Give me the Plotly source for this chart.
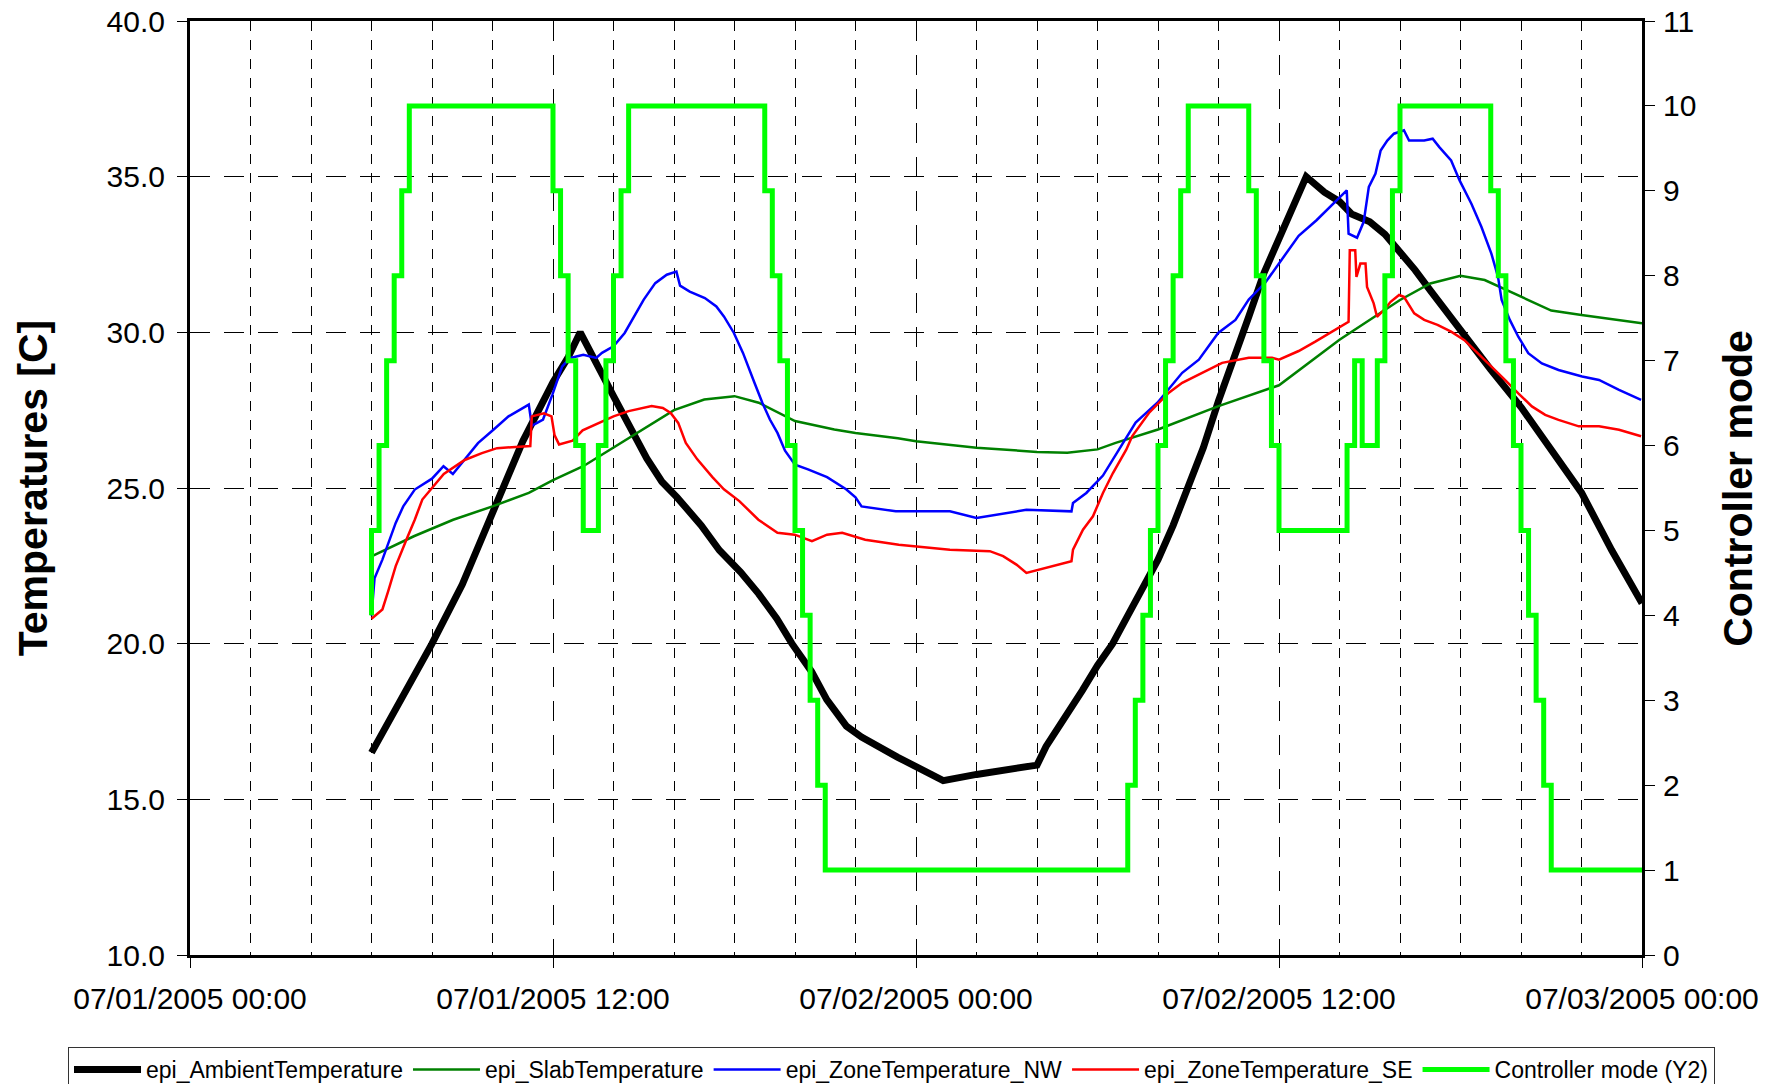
import pandas as pd
import plotly.graph_objects as go

# ---------------- data (hours after 07/01/2005 00:00) ----------------
AMB_T = [6.0, 7, 8, 9, 10, 11, 12, 12.5, 12.9, 13.25, 13.6, 14, 14.4, 14.75, 15.1, 15.6, 16.1,
         16.9, 17.5, 18.2, 18.8, 19.4, 19.9, 20.55, 21.05, 21.7, 22.2, 23.4, 24.9, 26.0, 28.0,
         28.3, 29.0, 29.5, 30.0, 30.5, 31.0, 31.5, 32.0, 32.5, 33.0, 33.5, 34.0, 34.5, 35.0,
         35.5, 36.0, 36.5, 36.9, 37.5, 38.0, 38.4, 39.0, 39.5, 40.0, 40.5, 41.0, 41.5, 42.0,
         43.0, 44.0, 45.0, 46.0, 47.0, 48.0]
AMB_V = [16.5, 18.2, 20.0, 21.9, 24.2, 26.5, 28.4, 29.2, 30.0, 29.4, 28.7, 27.95, 27.2, 26.55,
         25.95, 25.2, 24.7, 23.8, 23.0, 22.3, 21.6, 20.8, 20.0, 19.1, 18.2, 17.35, 17.0, 16.35,
         15.6, 15.8, 16.1, 16.7, 17.7, 18.5, 19.3, 20.0, 20.9, 21.8, 22.7, 23.8, 25.1, 26.3,
         27.8, 29.1, 30.5, 31.9, 33.0, 34.1, 35.0, 34.5, 34.2, 33.8, 33.55, 33.15, 32.6, 32.0,
         31.35, 30.7, 30.05, 28.8, 27.6, 26.2, 24.85, 23.0, 21.3]

SLAB_T = [6.0, 7.4, 8.7, 10.0, 11.2, 12.0, 13.0, 14.0, 15.0, 16.0, 17.0, 18.0, 18.8, 20.0, 21.3,
          22.0, 23.4, 24.0, 26.0, 28.0, 29.0, 30.0, 30.6, 32.0, 34.0, 36.0, 38.0, 40.0, 41.0,
          42.0, 42.8, 44.0, 45.0, 46.0, 48.0]
SLAB_V = [22.8, 23.45, 23.98, 24.41, 24.84, 25.25, 25.7, 26.3, 26.9, 27.5, 27.84, 27.95, 27.74,
          27.15, 26.88, 26.77, 26.6, 26.5, 26.29, 26.16, 26.13, 26.24, 26.45, 26.88, 27.63, 28.3,
          29.76, 31.04, 31.57, 31.82, 31.68, 31.14, 30.7, 30.56, 30.29]

NW_T = [6.0, 6.1, 6.36, 6.55, 6.8, 7.05, 7.43, 8.0, 8.38, 8.69, 9.02, 9.52, 10.03, 10.53, 11.2,
        11.3, 11.67, 11.98, 12.3, 12.55, 13.0, 13.43, 13.62, 14.0, 14.37, 14.62, 15.0, 15.38,
        15.76, 16.08, 16.2, 16.52, 17.02, 17.4, 17.65, 17.98, 18.28, 18.66, 18.92, 19.17, 19.42,
        19.67, 20.0, 20.43, 21.06, 21.69, 22.0, 22.2, 23.33, 25.12, 26.0, 27.65, 29.14, 29.19,
        29.63, 30.18, 30.62, 31.26, 31.98, 32.8, 33.35, 33.99, 34.56, 35.0, 35.55, 36.0, 36.65,
        37.24, 37.75, 38.24, 38.3, 38.58, 38.8, 38.97, 39.19, 39.36, 39.58, 39.8, 40.13, 40.3,
        40.8, 41.08, 41.3, 41.69, 41.97, 42.36, 42.69, 43.02, 43.24, 43.36, 43.63, 43.91, 44.24,
        44.69, 45.24, 46.02, 46.58, 47.24, 47.97]
NW_V = [20.9, 22.1, 22.7, 23.24, 23.88, 24.41, 24.95, 25.3, 25.7, 25.45, 25.85, 26.44, 26.87,
        27.3, 27.68, 27.0, 27.2, 28.0, 28.9, 29.17, 29.28, 29.18, 29.34, 29.55, 29.98, 30.4,
        31.05, 31.58, 31.85, 31.95, 31.5, 31.31, 31.1, 30.83, 30.51, 29.98, 29.34, 28.38, 27.74,
        27.2, 26.77, 26.2, 25.75, 25.6, 25.35, 24.96, 24.7, 24.41, 24.25, 24.25, 24.04, 24.3,
        24.25, 24.52, 24.84, 25.4, 26.1, 27.1, 27.74, 28.7, 29.12, 29.98, 30.4, 31.05, 31.6,
        32.2, 33.1, 33.6, 34.1, 34.56, 33.17, 33.04, 33.55, 34.67, 35.1, 35.84, 36.16, 36.38,
        36.49, 36.16, 36.16, 36.22, 35.95, 35.52, 34.88, 34.13, 33.39, 32.53, 31.78, 31.04,
        30.4, 29.86, 29.33, 29.0, 28.79, 28.58, 28.47, 28.15, 27.83]

SE_T = [6.0, 6.36, 6.55, 6.8, 7.18, 7.43, 7.68, 8.0, 8.39, 9.08, 9.65, 10.15, 11.25, 11.3, 11.7,
        11.95, 12.05, 12.2, 12.65, 12.98, 13.5, 14.0, 14.5, 15.26, 15.63, 15.89, 16.14, 16.39,
        16.77, 17.27, 17.65, 18.16, 18.79, 19.42, 19.99, 20.56, 21.06, 21.56, 22.32, 23.43,
        25.12, 26.44, 26.88, 27.32, 27.65, 28.09, 29.14, 29.19, 29.52, 29.85, 30.18, 30.51,
        30.95, 31.15, 31.7, 32.36, 32.8, 33.46, 34.12, 35.0, 35.77, 36.0, 36.65, 37.2, 37.86,
        38.3, 38.34, 38.52, 38.56, 38.69, 38.86, 38.91, 39.13, 39.24, 39.47, 39.69, 39.97,
        40.13, 40.47, 40.8, 41.24, 41.69, 42.13, 42.58, 43.02, 43.47, 43.91, 44.36, 44.8,
        45.24, 45.91, 46.58, 47.24, 47.97]
SE_V = [20.8, 21.1, 21.68, 22.49, 23.4, 23.98, 24.63, 25.0, 25.45, 25.9, 26.12, 26.28, 26.35,
        27.3, 27.4, 27.3, 26.7, 26.4, 26.52, 26.85, 27.08, 27.3, 27.47, 27.63, 27.57, 27.41,
        27.09, 26.45, 25.92, 25.35, 24.96, 24.58, 23.98, 23.56, 23.5, 23.29, 23.5, 23.56, 23.34,
        23.18, 23.02, 22.97, 22.81, 22.54, 22.27, 22.38, 22.65, 23.02, 23.66, 24.09, 24.84,
        25.48, 26.23, 26.67, 27.41, 28.06, 28.38, 28.7, 29.02, 29.18, 29.18, 29.12, 29.4, 29.7,
        30.1, 30.34, 32.64, 32.64, 31.78, 32.21, 32.21, 31.46, 30.93, 30.5, 30.72, 30.98, 31.2,
        31.14, 30.61, 30.4, 30.24, 30.02, 29.75, 29.33, 28.9, 28.47, 28.04, 27.62, 27.35, 27.19,
        26.98, 26.98, 26.87, 26.66]

MODE_T = [6.0, 6.0, 6.25, 6.5, 6.75, 7.0, 7.25, 12.0, 12.25, 12.5, 12.75, 13.0, 13.5, 13.75,
          14.0, 14.25, 14.5, 19.0, 19.25, 19.5, 19.75, 20.0, 20.25, 20.5, 20.75, 21.0, 31.0,
          31.25, 31.5, 31.75, 32.0, 32.25, 32.5, 32.75, 33.0, 35.0, 35.25, 35.5, 35.75, 36.0,
          38.25, 38.5, 38.75, 39.25, 39.5, 39.75, 40.0, 43.0, 43.25, 43.5, 43.75, 44.0, 44.25,
          44.5, 44.75, 45.0, 48.0]
MODE_V = [4, 5, 6, 7, 8, 9, 10, 9, 8, 7, 6, 5, 6, 7, 8, 9, 10, 9, 8, 7, 6, 5, 4, 3, 2, 1, 2,
          3, 4, 5, 6, 7, 8, 9, 10, 9, 8, 7, 6, 5, 6, 7, 6, 7, 8, 9, 10, 9, 8, 7, 6, 5, 4, 3, 2,
          1, 1]

NAMES = ["epi_AmbientTemperature", "epi_SlabTemperature", "epi_ZoneTemperature_NW",
         "epi_ZoneTemperature_SE", "Controller mode (Y2)"]
Y_TITLE = "Temperatures [C]"
Y2_TITLE = "Controller mode"

START = pd.Timestamp("2005-07-01 00:00")
END = pd.Timestamp("2005-07-03 00:00")


def to_time(hours):
    return [START + pd.Timedelta(hours=h) for h in hours]


FONT = "Liberation Sans, Arial, sans-serif"

fig = go.Figure()
fig.add_trace(go.Scatter(x=to_time(AMB_T), y=AMB_V, name=NAMES[0], mode="lines",
                         line=dict(color="#000000", width=7)))
fig.add_trace(go.Scatter(x=to_time(SLAB_T), y=SLAB_V, name=NAMES[1], mode="lines",
                         line=dict(color="#008000", width=2.5)))
fig.add_trace(go.Scatter(x=to_time(NW_T), y=NW_V, name=NAMES[2], mode="lines",
                         line=dict(color="#0000FF", width=2.5)))
fig.add_trace(go.Scatter(x=to_time(SE_T), y=SE_V, name=NAMES[3], mode="lines",
                         line=dict(color="#FF0000", width=2.5)))
fig.add_trace(go.Scatter(x=to_time(MODE_T), y=MODE_V, name=NAMES[4], mode="lines",
                         line=dict(color="#00FF00", width=5, shape="hv"), yaxis="y2"))

fig.update_layout(
    width=1778, height=1084,
    margin=dict(l=190, r=136, t=21, b=129, autoexpand=False),
    paper_bgcolor="white", plot_bgcolor="white",
    font=dict(family=FONT, color="black", size=30),
    showlegend=True,
    legend=dict(orientation="h", xref="paper", yref="paper",
                x=(68 - 190) / 1452, y=(955 - 1047) / 934, xanchor="left", yanchor="top",
                bordercolor="#333333", borderwidth=1, bgcolor="white",
                font=dict(size=23, family=FONT), itemwidth=67,
                tracegroupgap=0),
    xaxis=dict(
        type="date", range=[START, END], tick0=START, dtick=12 * 3600 * 1000,
        tickformat="%m/%d/%Y %H:%M", ticks="outside", ticklen=10, tickwidth=1,
        tickcolor="black", showline=True, linewidth=3, linecolor="black", mirror=True,
        showgrid=True, gridcolor="black", gridwidth=1, griddash="20px,14px",
        zeroline=False, ticklabelstandoff=5,
        minor=dict(dtick=2 * 3600 * 1000, tick0=START, showgrid=True, gridcolor="black",
                   gridwidth=1, griddash="10px,9px", ticks=""),
    ),
    yaxis=dict(
        range=[10, 40], dtick=5, tickformat=".1f", ticks="outside", ticklen=10,
        tickwidth=1, tickcolor="black", showline=True, linewidth=3, linecolor="black",
        showgrid=True, gridcolor="black", gridwidth=1, griddash="20px,14px",
        zeroline=False, ticklabelstandoff=6,
    ),
    yaxis2=dict(
        range=[0, 11], dtick=1, overlaying="y", side="right", ticks="outside", ticklen=10,
        tickwidth=1, tickcolor="black", showline=True, linewidth=3, linecolor="black",
        showgrid=False, zeroline=False, ticklabelstandoff=2,
    ),
    annotations=[
        dict(text="<b>" + Y_TITLE + "</b>", xref="paper", yref="paper", x=-0.108, y=0.5,
             textangle=-90, showarrow=False, xanchor="center", yanchor="middle",
             font=dict(size=41, family=FONT, color="black")),
        dict(text="<b>" + Y2_TITLE + "</b>", xref="paper", yref="paper", x=1.066, y=0.5,
             textangle=-90, showarrow=False, xanchor="center", yanchor="middle",
             font=dict(size=41, family=FONT, color="black")),
    ],
)

fig.write_html("out.html",
               config={"displayModeBar": False},
               post_script="document.body.style.margin='0';document.body.style.padding='0';"
                           "document.body.style.overflow='hidden';")
